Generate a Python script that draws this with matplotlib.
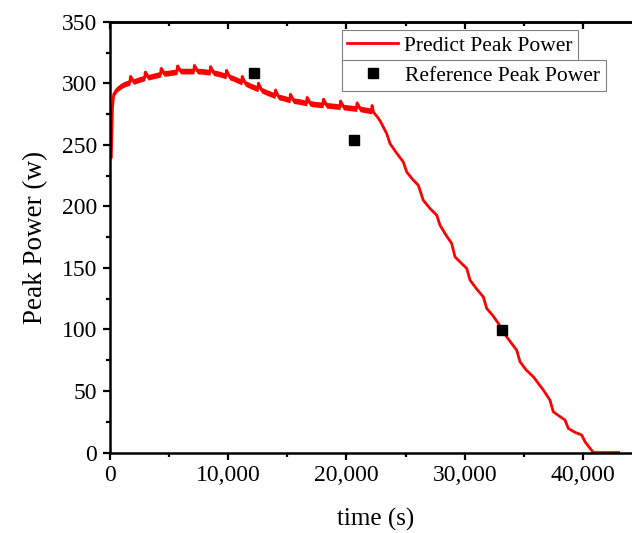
import matplotlib.pyplot as plt
from matplotlib.ticker import MultipleLocator, FuncFormatter
import numpy as np

plt.rcParams['font.family'] = ['Liberation Serif', 'DejaVu Serif']

# predicted peak power (s, w), spikes included
time = [150, 250, 350, 600, 1000, 1300, 1730, 1760, 2030, 2500, 2980, 3010, 3280, 3700,
        4320, 4350, 4620, 5000, 5700, 5730, 6000, 6500, 7130, 7160, 7430, 7800, 8490, 8520,
        8790, 9200, 9840, 9870, 10140, 10600, 11170, 11200, 11470, 11900, 12540, 12570,
        12840, 13300, 13980, 14010, 14280, 14700, 15240, 15270, 15540, 16000, 16650, 16680,
        16950, 17400, 18030, 18060, 18330, 18800, 19470, 19500, 19770, 20200, 20870, 20900,
        21170, 21600, 22140, 22170, 22300,
        22600, 22850, 23410, 23690, 24200, 24810, 25100, 25600, 26080, 26500, 27100, 27640,
        27910, 28400, 28900, 29180, 29700, 30170, 30450, 31000, 31570, 31860, 32400, 32840,
        33120, 33540, 34390, 34670, 35200, 35790, 36640, 37200, 37480, 38000, 38470, 38750,
        39300, 39880, 40160, 40860, 43000]
power = [240, 280, 291, 295, 298, 299.5, 301, 305.5, 301.5, 303, 304.5, 309, 305, 306,
         307.5, 312, 308, 308.5, 309.5, 314, 310, 310, 310, 314.5, 310, 309.8, 309, 313.5,
         308.7, 307.8, 306, 310.5, 305.2, 303.5, 301, 305.5, 300, 298, 295.5, 300,
         294.5, 292.5, 290, 294.5, 289, 288, 286.5, 291, 286, 285.3, 284, 288.5,
         283.7, 283, 282.5, 287, 282.2, 281.7, 281, 285.5, 280.7, 280.2, 279.5, 284,
         279.2, 278.5, 277.5, 282, 276.5,
         273, 269.6, 259.2, 251.1, 244, 236.2, 228, 222, 217.2, 205, 198, 192.9,
         184.8, 177, 169.9, 159, 154, 149.6, 140.1, 133, 126.5, 117.1, 111, 104.9,
         100.5, 94, 83.2, 73.8, 67, 61.6, 50.8, 42.6, 33.1, 29.5, 26.4, 19.6,
         16.5, 14.2, 8.8, 0, 0]

ref_time = [12190, 20630, 33110]
ref_power = [308.2, 253.8, 99.5]

t = np.array(time)
p = np.array(power)
flat = t <= 22300

fig = plt.figure(figsize=(6.32, 5.33), dpi=100)
ax = fig.add_axes([0.1733, 0.151, 0.843, 0.808])

ax.fill_between(t[flat], p[flat] - 2.3, p[flat] + 2.3, color='red', lw=0)
line, = ax.plot(t, p, color='red', lw=2, solid_joinstyle='round', label='Predict Peak Power')
pts, = ax.plot(ref_time, ref_power, 's', color='black', ms=7.2, ls='none',
               label='Reference Peak Power')

ax.set_xlim(0, 45000)
ax.set_ylim(0, 350)
ax.xaxis.set_major_locator(MultipleLocator(10000))
ax.xaxis.set_minor_locator(MultipleLocator(5000))
ax.yaxis.set_major_locator(MultipleLocator(50))
ax.yaxis.set_minor_locator(MultipleLocator(25))
ax.xaxis.set_major_formatter(FuncFormatter(lambda v, pos: f'{int(v):,}'))

for s in ['left', 'bottom', 'top']:
    ax.spines[s].set_linewidth(1.8)
ax.spines['right'].set_visible(False)
ax.tick_params(which='major', direction='out', length=5, width=1.6, labelsize=17, pad=4)
ax.tick_params(which='minor', direction='out', length=3, width=1.6)

top = ax.secondary_xaxis('top')
top.xaxis.set_major_locator(MultipleLocator(10000))
top.xaxis.set_minor_locator(MultipleLocator(5000))
top.spines['top'].set_linewidth(1.8)
top.tick_params(which='major', direction='in', length=5, width=1.6, labeltop=False)
top.tick_params(which='minor', direction='in', length=3, width=1.6)

ax.set_xlabel('time (s)', fontsize=18, labelpad=16)
ax.set_ylabel('Peak Power (w)', fontsize=19.5, labelpad=10)

leg_kw = dict(bbox_transform=fig.transFigure, loc='upper left', fontsize=15.5,
              fancybox=False, edgecolor='gray', framealpha=1, borderpad=0.26,
              borderaxespad=0, handlelength=2.35, handletextpad=0.3)
leg1 = ax.legend(handles=[line], bbox_to_anchor=(341.7 / 632, 1 - 30 / 533), **leg_kw)
leg1.get_frame().set_linewidth(0.8)
ax.add_artist(leg1)
leg2 = ax.legend(handles=[pts], bbox_to_anchor=(342.3 / 632, 1 - 60 / 533), **leg_kw)
leg2.get_frame().set_linewidth(0.8)

fig.savefig('out.png', dpi=100)
